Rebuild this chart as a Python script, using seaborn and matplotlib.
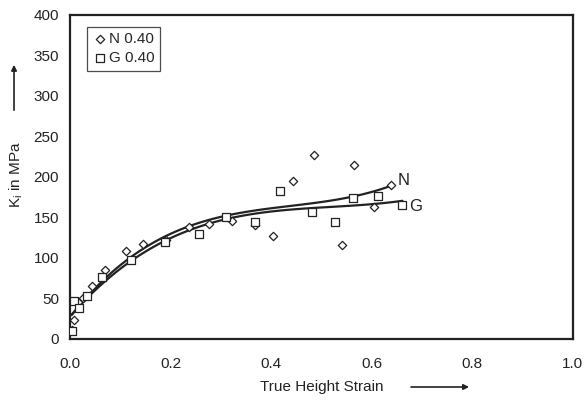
import numpy as np
import pandas as pd
import matplotlib
matplotlib.use("Agg")
import matplotlib.pyplot as plt
import seaborn as sns

sns.set_theme(style="white")
plt.rcParams['font.family'] = ['Liberation Sans', 'DejaVu Sans']

# N 0.40 (diamonds)
n_strain = [0.003, 0.008, 0.015, 0.025, 0.043, 0.070, 0.111, 0.146, 0.191, 0.236,
            0.277, 0.323, 0.368, 0.404, 0.443, 0.486, 0.540, 0.565, 0.604, 0.638]
n_ki = [11, 23, 45, 51, 65, 85, 109, 117, 122, 138,
        142, 145, 140, 127, 195, 227, 116, 215, 163, 190]
# G 0.40 (squares)
g_strain = [0.003, 0.007, 0.018, 0.033, 0.063, 0.121, 0.188, 0.256, 0.310, 0.368,
            0.417, 0.481, 0.527, 0.563, 0.612, 0.661]
g_ki = [10, 47, 38, 53, 76, 97, 119, 130, 150, 144,
        182, 157, 144, 174, 176, 165]

x_ticks = [0.0, 0.2, 0.4, 0.6, 0.8, 1.0]
y_ticks = [0, 50, 100, 150, 200, 250, 300, 350, 400]

dfn = pd.DataFrame({"strain": n_strain, "ki": n_ki})
dfg = pd.DataFrame({"strain": g_strain, "ki": g_ki})

FS = 11
INK = "#222222"

fig = plt.figure(figsize=(5.84, 4.01), dpi=100)
ax = fig.add_axes([0.12, 0.155, 0.861, 0.808])

sns.regplot(data=dfn, x="strain", y="ki", order=3, ci=None, scatter=False,
            ax=ax, line_kws=dict(color=INK, lw=1.6))
sns.regplot(data=dfg, x="strain", y="ki", order=3, ci=None, scatter=False,
            ax=ax, line_kws=dict(color=INK, lw=1.6))
sns.scatterplot(data=dfn, x="strain", y="ki", marker="D", s=18, facecolor="white",
                edgecolor=INK, linewidth=0.9, ax=ax, label="N 0.40", zorder=3)
sns.scatterplot(data=dfg, x="strain", y="ki", marker="s", s=38, facecolor="white",
                edgecolor=INK, linewidth=0.9, ax=ax, label="G 0.40", zorder=3)

ax.text(0.652, 196, "N", fontsize=FS + 1, color=INK, va="center", ha="left")
ax.text(0.674, 164, "G", fontsize=FS + 1, color=INK, va="center", ha="left")

ax.set_xlim(0, 1.0)
ax.set_ylim(0, 400)
ax.set_xticks(x_ticks)
ax.set_xticklabels([f"{v:.1f}" for v in x_ticks])
ax.set_yticks(y_ticks)
ax.tick_params(direction="in", length=5, width=1.2, colors=INK,
               labelsize=FS, pad=13)
ax.tick_params(axis="y", pad=8)
for s in ax.spines.values():
    s.set_color(INK)
    s.set_linewidth(1.6)

ax.set_xlabel("True Height Strain", fontsize=FS, color=INK)
ax.xaxis.set_label_coords(0.501, -0.128)
ax.set_ylabel("K$_\\mathregular{i}$ in MPa", fontsize=FS, color=INK)
ax.yaxis.set_label_coords(-0.089, 0.506)

fig.add_artist(matplotlib.patches.FancyArrowPatch(
    (0.699, 1 - 387 / 401), (0.808, 1 - 387 / 401), transform=fig.transFigure,
    arrowstyle="-|>", mutation_scale=8, color=INK, lw=1.2))
fig.add_artist(matplotlib.patches.FancyArrowPatch(
    (0.024, 1 - 113 / 401), (0.024, 1 - 62 / 401), transform=fig.transFigure,
    arrowstyle="-|>", mutation_scale=8, color=INK, lw=1.2))

leg = ax.legend(loc="upper left", bbox_to_anchor=(0.034, 0.964), frameon=True,
                fancybox=False, edgecolor=INK, fontsize=FS,
                handletextpad=0.1, handlelength=1.0, borderpad=0.35,
                labelspacing=0.35, borderaxespad=0.0)
leg.get_frame().set_linewidth(0.9)

fig.savefig("out.png", dpi=100)
